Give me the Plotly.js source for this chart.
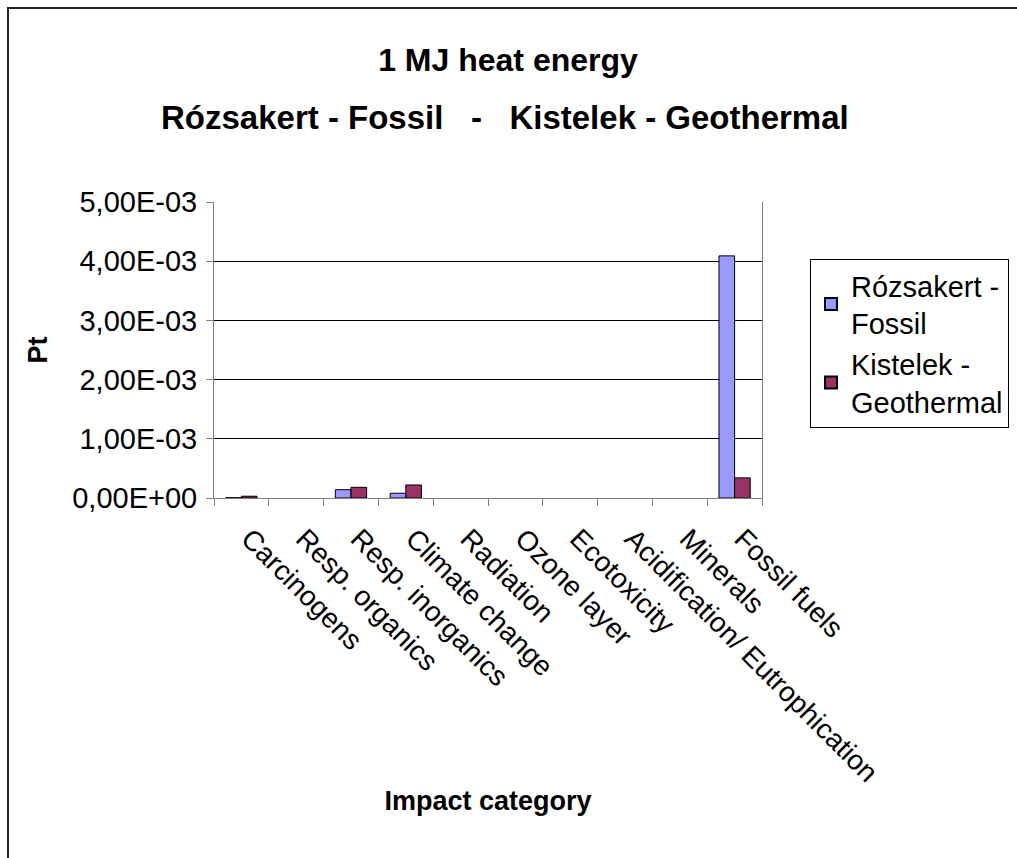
<!DOCTYPE html>
<html>
<head>
<meta charset="utf-8">
<script src="https://cdn.plot.ly/plotly-3.0.1.min.js"></script>
<style>
html,body{margin:0;padding:0;background:#fff;}
#wrap{position:relative;width:1017px;height:858px;overflow:hidden;}
#chart{width:1017px;height:858px;}
#frame{position:absolute;left:7px;top:7px;right:-10px;bottom:-10px;border-left:2px solid #222;border-top:2px solid #222;pointer-events:none;}
</style>
</head>
<body>
<div id="wrap"><div id="chart"></div><div id="frame"></div></div>
<script>
const categories = ["Carcinogens","Resp. organics","Resp. inorganics","Climate change","Radiation","Ozone layer","Ecotoxicity","Acidification/ Eutrophication","Minerals","Fossil fuels"];
const rozsakertFossil = [0.000005, 0, 0.00014, 0.00008, 0, 0, 0, 0, 0, 0.00409];
const kistelekGeothermal = [0.00003, 0, 0.00018, 0.00022, 0, 0, 0, 0, 0, 0.00034];
const yTickVals = [0, 0.001, 0.002, 0.003, 0.004, 0.005];
const yTickText = ["0,00E+00","1,00E-03","2,00E-03","3,00E-03","4,00E-03","5,00E-03"];
const seriesNames = ["Rózsakert -<br>Fossil", "Kistelek -<br>Geothermal"];

const FONT = "Liberation Sans, Arial, Helvetica, sans-serif";
const outline = v => v.map(d => d > 0 ? 1 : 0);

const traces = [
  {type:"bar", name:seriesNames[0], x:categories, y:rozsakertFossil,
   marker:{color:"#9999FF", line:{color:"#000", width:outline(rozsakertFossil)}}},
  {type:"bar", name:seriesNames[1], x:categories, y:kistelekGeothermal,
   marker:{color:"#993366", line:{color:"#000", width:outline(kistelekGeothermal)}}}
];

const layout = {
  width:1017, height:858,
  margin:{l:214, r:255, t:202, b:360, pad:0, autoexpand:false},
  paper_bgcolor:"#fff", plot_bgcolor:"#fff",
  font:{family:FONT, color:"#000"},
  barmode:"group", bargap:0.43, bargroupgap:0,
  showlegend:true,
  title:{text:"<b>1 MJ heat energy</b>", font:{family:FONT, size:32, color:"#000"},
         x:508/1017, xref:"container", y:1-60/858, yref:"container", yanchor:"middle", xanchor:"center"},
  annotations:[
    {text:"<b>Rózsakert - Fossil\u00a0\u00a0\u00a0-\u00a0\u00a0\u00a0Kistelek - Geothermal</b>", xref:"paper", yref:"paper",
     x:(505-214)/548, y:(498.5-117)/296.5, xanchor:"center", yanchor:"middle", showarrow:false,
     font:{family:FONT, size:33, color:"#000"}}
  ],
  legend:{x:(810-214)/548, y:(498.5-259)/296.5, xanchor:"left", yanchor:"top",
          bordercolor:"#000", borderwidth:1, bgcolor:"#fff",
          font:{family:FONT, size:29, color:"#000"}, tracegroupgap:26, itemsizing:"constant"},
  xaxis:{type:"category", tickangle:45, tickfont:{family:FONT, size:28, color:"#000"},
         ticklabelstandoff:12, ticklabelshift:8, automargin:false,
         showline:true, linecolor:"#808080", linewidth:1, mirror:false,
         ticks:"outside", tickson:"boundaries", ticklen:7, tickcolor:"#808080",
         showgrid:false, zeroline:false, fixedrange:true,
         title:{text:"<b>Impact category</b>", font:{family:FONT, size:27, color:"#000"}, standoff:4}},
  yaxis:{range:[0,0.005], tickvals:yTickVals, ticktext:yTickText,
         tickfont:{family:FONT, size:29, color:"#000"}, automargin:false,
         showline:true, linecolor:"#808080", linewidth:1, mirror:true,
         ticks:"outside", ticklen:7, tickcolor:"#808080", ticklabelstandoff:3,
         showgrid:true, gridcolor:"#000", gridwidth:1, zeroline:false, fixedrange:true,
         title:{text:"<b>Pt</b>", font:{family:FONT, size:27, color:"#000"}, standoff:16}}
};

Plotly.newPlot("chart", traces, layout, {displayModeBar:false, staticPlot:true});
</script>
</body>
</html>
